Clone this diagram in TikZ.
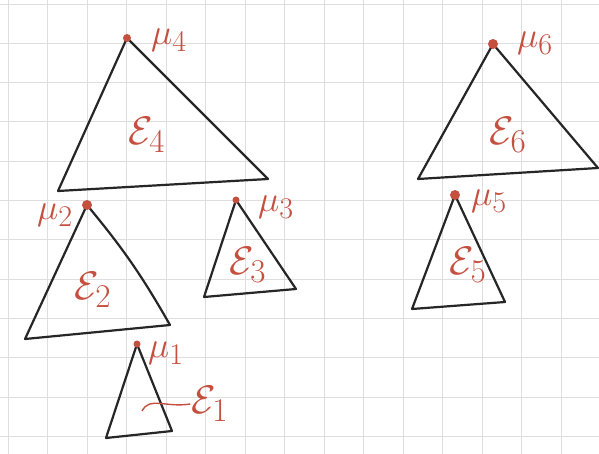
\documentclass[tikz,border=0pt]{standalone}
\definecolor{redc}{RGB}{198,80,64}
\newcommand{\mlab}[1]{\scalebox{1.45}{$\mu_{#1}$}}
\newcommand{\elab}[1]{\scalebox{1.6}{$\mathcal{E}_{#1}$}}
\begin{document}
\begin{tikzpicture}[x=1pt,y=-1pt,
  tri/.style={draw=black!85, line width=2.2pt, line join=round},
  gridln/.style={draw=black!13, line width=0.9pt},
  dot/.style={circle, fill=redc, inner sep=0pt, minimum size=8pt},
  mulab/.style={text=redc, font=\Huge, inner sep=1pt},
  elabst/.style={text=redc, font=\Huge, inner sep=1pt},
  wiggle/.style={draw=redc, line width=1.4pt}]
\fill[white] (0,0) rectangle (599,454);
\path[use as bounding box] (0,0) rectangle (599,454);
\foreach \i in {0,...,15} \draw[gridln] ({8+39.5*\i},0) -- ({8+39.5*\i},454);
\foreach \j in {0,...,11} \draw[gridln] (0,{4+39.3*\j}) -- (599,{4+39.3*\j});

% triangle 4
\coordinate (a4) at (127,38); \coordinate (b4) at (58,191); \coordinate (c4) at (268,179);
\draw[tri] (a4) -- (b4) -- (c4) -- cycle;
\node[dot] (d4) at (a4) {};
\node[mulab] (mu4) at (169,40) {\mlab{4}};
\node[elabst] (e4) at (147,135) {\elab{4}};

% triangle 2
\coordinate (a2) at (87,205); \coordinate (b2) at (25,339); \coordinate (c2) at (170,325);
\draw[tri] (a2) -- (b2) -- (c2) to[bend right=5] (a2);
\node[dot, minimum size=10pt] (d2) at (a2) {};
\node[mulab] (mu2) at (55,215) {\mlab{2}};
\node[elabst] (e2) at (93,290) {\elab{2}};

% triangle 3
\coordinate (a3) at (236,200); \coordinate (b3) at (204,297); \coordinate (c3) at (296,289);
\draw[tri] (a3) -- (b3) -- (c3) -- cycle;
\node[dot, minimum size=7pt] (d3) at (a3) {};
\node[mulab] (mu3) at (276,207) {\mlab{3}};
\node[elabst] (e3) at (248,265) {\elab{3}};

% triangle 1
\coordinate (a1) at (137,344); \coordinate (b1) at (106,438); \coordinate (c1) at (172,431);
\draw[tri] (a1) -- (b1) -- (c1) -- cycle;
\node[dot, minimum size=7pt] (d1) at (a1) {};
\node[mulab] (mu1) at (166,353) {\mlab{1}};
\node[elabst] (e1) at (210,404) {\elab{1}};
\coordinate (w1) at (142,411);
\draw[wiggle] (w1) .. controls (150,396) and (165,408) .. (e1.west);

% triangle 6
\coordinate (a6) at (493,44); \coordinate (b6) at (418,179); \coordinate (c6) at (598,168);
\draw[tri] (a6) -- (b6) -- (c6) -- cycle;
\node[dot, minimum size=10pt] (d6) at (a6) {};
\node[mulab] (mu6) at (535,43) {\mlab{6}};
\node[elabst] (e6) at (508,135) {\elab{6}};

% triangle 5
\coordinate (a5) at (455,195); \coordinate (b5) at (412,309); \coordinate (c5) at (505,302);
\draw[tri] (a5) -- (b5) -- (c5) -- cycle;
\node[dot, minimum size=10pt] (d5) at (a5) {};
\node[mulab] (mu5) at (489,201) {\mlab{5}};
\node[elabst] (e5) at (468,265) {\elab{5}};
\end{tikzpicture}
\end{document}
